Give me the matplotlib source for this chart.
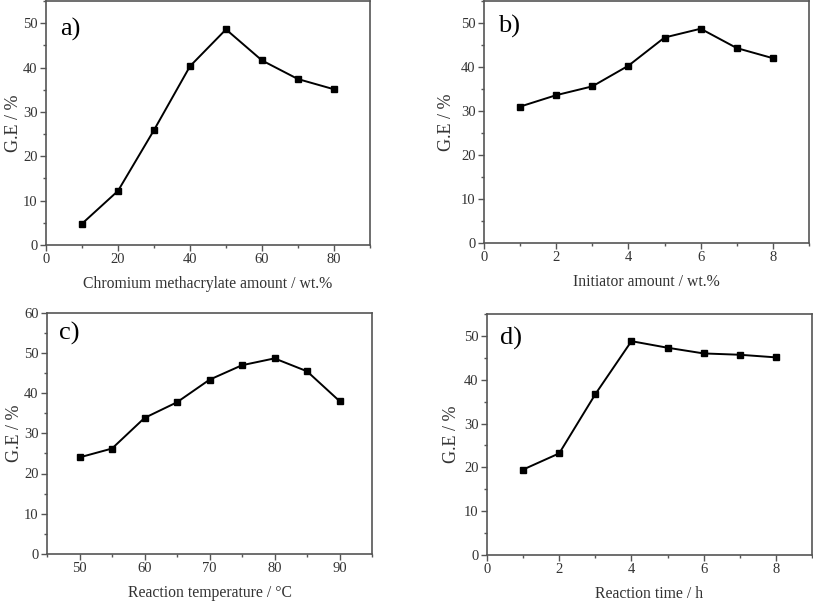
import matplotlib
matplotlib.use("Agg")
import matplotlib.pyplot as plt
from matplotlib.ticker import AutoMinorLocator, MultipleLocator

plt.rcParams['font.family'] = ['Liberation Serif', 'DejaVu Serif']

# Data
a_x = [10, 20, 30, 40, 50, 60, 70, 80]
a_y = [4.8, 12.2, 25.9, 40.3, 48.6, 41.6, 37.4, 35.1]
b_x = [1, 2, 3, 4, 5, 6, 7, 8]
b_y = [31.0, 33.6, 35.6, 40.3, 46.7, 48.7, 44.3, 42.0]
c_x = [50, 55, 60, 65, 70, 75, 80, 85, 90]
c_y = [24.0, 26.2, 33.8, 37.7, 43.3, 46.9, 48.6, 45.4, 38.0]
d_x = [1, 2, 3, 4, 5, 6, 7, 8]
d_y = [19.5, 23.2, 36.7, 48.8, 47.3, 46.0, 45.7, 45.1]

xlabels = ["Chromium methacrylate amount / wt.%", "Initiator amount / wt.%",
           "Reaction temperature / \u00b0C", "Reaction time / h"]
ylabel = "G.E / %"
panel_labels = ["a)", "b)", "c)", "d)"]

fig = plt.figure(figsize=(8.13, 6.01), dpi=100)
W, H = 813, 601
def rect(l, t, r, b):
    return [l / W, 1 - b / H, (r - l) / W, (b - t) / H]

axes = [fig.add_axes(rect(46, 1, 370, 245)),
        fig.add_axes(rect(484, 1, 809, 243)),
        fig.add_axes(rect(47, 312.5, 372, 554)),
        fig.add_axes(rect(487, 314, 812, 555))]

datasets = [(a_x, a_y), (b_x, b_y), (c_x, c_y), (d_x, d_y)]
xlims = [(0, 90), (0, 9), (45, 95), (0, 9)]
ylims = [(0, 55), (0, 55), (0, 60), (0, 55)]
xmaj = [20, 2, 10, 2]
label_pos = [(0.045, 0.885), (0.043, 0.895), (0.036, 0.915), (0.04, 0.9)]
ylabelpads = [1, 4, 1, 3]

spine_col = '#555555'
text_col = '#333333'
for i, ax in enumerate(axes):
    x, y = datasets[i]
    ax.plot(x, y, color='black', lw=1.4, marker='s', markersize=5,
            markerfacecolor='black', markeredgecolor='black')
    ax.set_xlim(*xlims[i])
    ax.set_ylim(*ylims[i])
    ax.xaxis.set_major_locator(MultipleLocator(xmaj[i]))
    ax.yaxis.set_major_locator(MultipleLocator(10))
    ax.xaxis.set_minor_locator(AutoMinorLocator(2))
    ax.yaxis.set_minor_locator(AutoMinorLocator(2))
    ax.tick_params(which='major', direction='out', length=4, width=1,
                   color=spine_col, labelsize=10.5, labelcolor=text_col, pad=2)
    ax.tick_params(which='minor', direction='out', length=2, width=1,
                   color=spine_col)
    for s in ax.spines.values():
        s.set_color(spine_col)
        s.set_linewidth(1.2)
    ax.set_xlabel(xlabels[i], fontsize=11.3, color=text_col, labelpad=7)
    ax.set_ylabel(ylabel, fontsize=13, color=text_col, labelpad=ylabelpads[i])
    px, py = label_pos[i]
    ax.text(px, py, panel_labels[i], transform=ax.transAxes, fontsize=19,
            ha='left', va='center', color='black')

fig.savefig("out.png", dpi=100)
